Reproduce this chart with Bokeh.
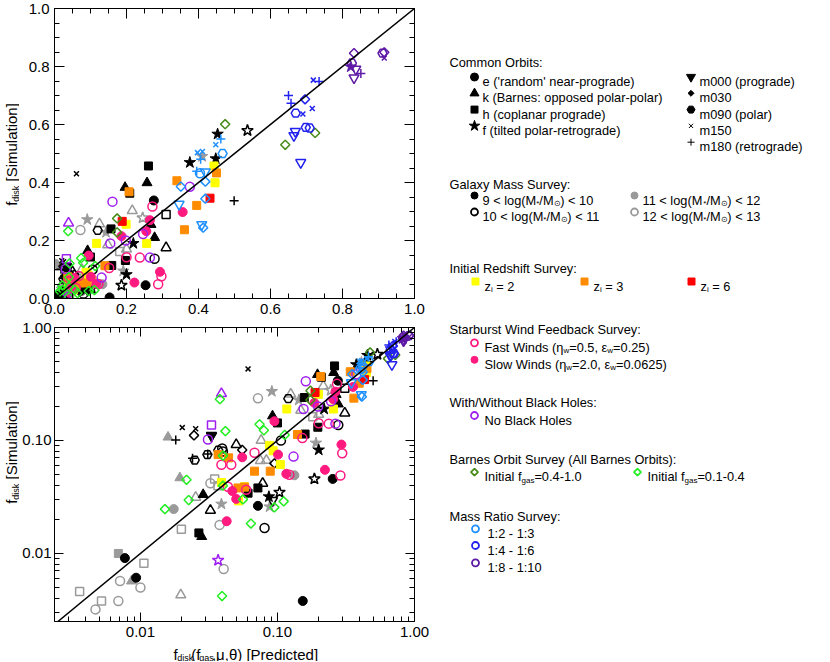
import numpy as np
from bokeh.plotting import figure
from bokeh.models import (ColumnDataSource, FixedTicker, PrintfTickFormatter,
                          CustomJSTickFormatter, LinearAxis, LogAxis, Range1d, Slope)
from bokeh.layouts import row, column
from bokeh.embed import file_html
from bokeh.resources import INLINE
from bokeh.core.properties import value

# ---------------------------------------------------------------- data
# x = f_disk predicted, y = f_disk simulation; m = marker code
# o circle, ^ triangle, s square, * star, v inverted triangle,
# d diamond, h pentagon/hex, x cross-x, + plus
blk_fill_x = [0.0077, 0.0093, 0.153, 0.0267, 0.028, 0.0287, 0.061, 0.072, 0.072, 0.0866,
              0.253, 0.20, 0.092, 0.10, 0.159, 0.197, 0.061, 0.0202, 0.0253, 0.0181,
              0.024, 0.031, 0.033, 0.499, 0.219, 0.278, 0.257, 0.261, 0.196, 0.209,
              0.276, 0.376, 0.448, 0.453, 0.157, 0.268]
blk_fill_y = [0.0091, 0.0061, 0.0038, 0.0152, 0.0141, 0.0332, 0.0342, 0.038, 0.0264, 0.0318,
              0.0457, 0.0825, 0.165, 0.143, 0.114, 0.131, 0.43, 0.130, 0.127, 0.101,
              0.0695, 0.076, 0.109, 0.337, 0.19, 0.21, 0.399, 0.457, 0.383, 0.363,
              0.338, 0.469, 0.482, 0.567, 0.24, 0.255]
blk_fill_m = list("ooos^^sso*o*^sssxxx+++v+*^^s^so***s^")

blk_open_x = [0.0324, 0.078, 0.050, 0.1035, 0.186, 0.092, 0.0805, 0.106, 0.0246, 0.033,
              0.0249, 0.0308, 0.037, 0.0395, 0.0553, 0.095, 0.12, 0.31, 0.31, 0.278,
              0.536, 0.04]
blk_open_y = [0.0241, 0.0418, 0.092, 0.0348, 0.0457, 0.0295, 0.0168, 0.100, 0.111, 0.111,
              0.067, 0.075, 0.082, 0.085, 0.0825, 0.0627, 0.235, 0.29, 0.175, 0.137,
              0.579, 0.080]
blk_open_m = list("^^^**voodvhhhoddhs^o*o")

gry_fill_x = [0.0069, 0.0086, 0.0175, 0.0194, 0.0159, 0.039, 0.0877, 0.133, 0.191, 0.091,
              0.143, 0.41, 0.0015]
gry_fill_y = [0.0100, 0.0057, 0.0247, 0.0467, 0.107, 0.0274, 0.0259, 0.0492, 0.095, 0.272,
              0.228, 0.49, 0.12]
gry_fill_m = list("s^o^^**o****o")

gry_open_x = [0.0106, 0.0036, 0.0052, 0.0199, 0.0348, 0.0368, 0.181, 0.0071, 0.0100, 0.0069,
              0.0047, 0.0405, 0.0378, 0.0324, 0.072, 0.0197, 0.0253, 0.076, 0.075, 0.083,
              0.148, 0.20, 0.216, 0.125, 0.245]
gry_open_y = [0.0082, 0.0046, 0.0038, 0.0164, 0.0457, 0.0398, 0.162, 0.0057, 0.0050, 0.0038,
              0.0032, 0.0073, 0.0179, 0.0418, 0.236, 0.0043, 0.0314, 0.100, 0.0663, 0.0668,
              0.185, 0.170, 0.303, 0.257, 0.278]
gry_open_m = list("sssssssoooooooo^^^^^^^^^*")

yel_x = [0.039, 0.052, 0.0574, 0.0876, 0.093, 0.105, 0.117, 0.256, 0.443, 0.446, 0.199]
yel_y = [0.0425, 0.0292, 0.039, 0.0905, 0.081, 0.0612, 0.19, 0.19, 0.457, 0.399, 0.256]

org_x = [0.0515, 0.0575, 0.068, 0.0886, 0.0369, 0.044, 0.14, 0.207, 0.34, 0.45, 0.395, 0.361]
org_y = [0.038, 0.0387, 0.0535, 0.0535, 0.075, 0.0702, 0.113, 0.368, 0.406, 0.433, 0.321, 0.237]

red_x = [0.188, 0.432]
red_y = [0.266, 0.346]

pnk_fill_x = [0.0426, 0.0468, 0.050, 0.0553, 0.095, 0.101, 0.116, 0.222, 0.293, 0.186,
              0.265, 0.356, 0.255]
pnk_fill_y = [0.0193, 0.0357, 0.0304, 0.071, 0.148, 0.075, 0.0507, 0.055, 0.092, 0.215,
              0.27, 0.298, 0.232]

pnk_open_x = [0.039, 0.046, 0.068, 0.0435, 0.0591, 0.122, 0.288, 0.297, 0.152, 0.20, 0.237, 0.272]
pnk_open_y = [0.061, 0.061, 0.078, 0.039, 0.0366, 0.0497, 0.049, 0.077, 0.105, 0.142, 0.141, 0.317]

pur_x = [0.0311, 0.131, 0.155, 0.198, 0.161, 0.246, 0.265, 0.376, 0.039, 0.033, 0.0369]
pur_y = [0.102, 0.072, 0.19, 0.20, 0.334, 0.222, 0.141, 0.385, 0.26, 0.137, 0.0087]
pur_m = list("oooooooo^s*")

dgr_x = [0.474, 0.724, 0.641, 0.174, 0.174]
dgr_y = [0.601, 0.571, 0.530, 0.276, 0.228]

lgr_x = [0.0394, 0.064, 0.0151, 0.0225, 0.0217, 0.040, 0.056, 0.095, 0.111, 0.113,
         0.0417, 0.074, 0.0796, 0.038, 0.040]
lgr_y = [0.0042, 0.0184, 0.0247, 0.0297, 0.0449, 0.0398, 0.0301, 0.0256, 0.0289, 0.112,
         0.121, 0.139, 0.123, 0.232, 0.0735]

dod_x = [0.397, 0.411, 0.406, 0.448, 0.462, 0.467, 0.395, 0.404, 0.419, 0.419, 0.351, 0.346,
         0.419, 0.409, 0.413]
dod_y = [0.503, 0.507, 0.480, 0.530, 0.550, 0.500, 0.439, 0.432, 0.437, 0.403, 0.386, 0.325,
         0.344, 0.255, 0.244]
dod_m = list("xx+x+h+ovddvdvd")

blu_x = [0.650, 0.657, 0.719, 0.735, 0.696, 0.670, 0.690, 0.716, 0.698, 0.709, 0.669, 0.665, 0.684]
blu_y = [0.700, 0.673, 0.753, 0.748, 0.687, 0.639, 0.636, 0.655, 0.590, 0.588, 0.576, 0.562, 0.469]
blu_m = list("++x+dhxxhhvvv")

dpu_x = [0.832, 0.826, 0.837, 0.832, 0.851, 0.916, 0.911, 0.916]
dpu_y = [0.846, 0.812, 0.791, 0.761, 0.776, 0.849, 0.846, 0.829]
dpu_m = list("dhvv+dhx")
dpu_fill_x = [0.823]
dpu_fill_y = [0.799]

# ---------------------------------------------------------------- texts
LIN_TICKS = [0.0, 0.2, 0.4, 0.6, 0.8, 1.0]
LOG_TICKS = [0.01, 0.1, 1.0]
ORBIT_LEFT = ["e ('random' near-prograde)", "k (Barnes: opposed polar-polar)",
              "h (coplanar prograde)", "f (tilted polar-retrograde)"]
ORBIT_LEFT_MK = ["o", "^", "s", "*"]
ORBIT_RIGHT = ["m000 (prograde)", "m030", "m090 (polar)", "m150", "m180 (retrograde)"]
ORBIT_RIGHT_MK = ["v", "d", "h", "x", "+"]
MASS_BINS = [("9", "10"), ("10", "11"), ("11", "12"), ("12", "13")]
REDSHIFTS = ["2", "3", "6"]
RATIOS = ["1:2 - 1:3", "1:4 - 1:6", "1:8 - 1:10"]
TITLE_Y = [("f", "n"), ("disk", "s"), (" [Simulation]", "n")]
TITLE_X = [("f", "n"), ("disk", "s"), ("(f", "n"), ("gas", "s"), (",μ,θ) [Predicted]", "n")]

# ---------------------------------------------------------------- style
FONT = "Liberation Sans"
BLACK = "#000000"
GRAY = "#9a9a9a"
YELLOW = "#ffff00"
ORANGE = "#ff8c00"
RED = "#ff0000"
PINK = "#ff1a80"
PURPLE = "#a020f0"
DKGREEN = "#468a18"
LTGREEN = "#22ee22"
DODGER = "#1e90ff"
BLUE = "#2222ee"
DKPURPLE = "#5e1aa6"

MK = {"o": ("circle", 9, 0.0), "^": ("triangle", 10, 0.0), "s": ("square", 8, 0.0),
      "*": ("star", 12, 0.0), "v": ("inverted_triangle", 10, 0.0),
      "d": ("square", 6.5, np.pi / 4), "h": ("hex", 9, 0.0), "x": ("x", 7, 0.0),
      "+": ("cross", 9, 0.0)}

GROUPS = [
    (gry_open_x, gry_open_y, gry_open_m, GRAY, False),
    (gry_fill_x, gry_fill_y, gry_fill_m, GRAY, True),
    (blk_open_x, blk_open_y, blk_open_m, BLACK, False),
    (blk_fill_x, blk_fill_y, blk_fill_m, BLACK, True),
    (yel_x, yel_y, ["s"] * len(yel_x), YELLOW, True),
    (org_x, org_y, ["s"] * len(org_x), ORANGE, True),
    (red_x, red_y, ["s"] * len(red_x), RED, True),
    (pnk_open_x, pnk_open_y, ["o"] * len(pnk_open_x), PINK, False),
    (pnk_fill_x, pnk_fill_y, ["o"] * len(pnk_fill_x), PINK, True),
    (pur_x, pur_y, pur_m, PURPLE, False),
    (lgr_x, lgr_y, ["d"] * len(lgr_x), LTGREEN, False),
    (dgr_x, dgr_y, ["d"] * len(dgr_x), DKGREEN, False),
    (dod_x, dod_y, dod_m, DODGER, False),
    (blu_x, blu_y, blu_m, BLUE, False),
    (dpu_x, dpu_y, dpu_m, DKPURPLE, False),
    (dpu_fill_x, dpu_fill_y, ["*"], DKPURPLE, True),
]


def build_source():
    d = dict(x=[], y=[], marker=[], size=[], angle=[], color=[], fa=[], lw=[])
    for gx, gy, gm, c, filled in GROUPS:
        for xv, yv, m in zip(gx, gy, gm):
            name, s, a = MK[m]
            d["x"].append(xv); d["y"].append(yv)
            d["marker"].append(name); d["size"].append(s); d["angle"].append(a)
            d["color"].append(c)
            d["fa"].append(1.0 if filled else 0.0)
            d["lw"].append(1.0 if (filled and m not in "x+") else 1.5)
    return ColumnDataSource(d)


# Arial / Liberation Sans advance widths (per 1000 em)
AW = {' ': 278, "'": 191, '(': 333, ')': 333, '*': 389, '+': 584, ',': 278, '-': 333,
      '.': 278, '/': 278, ':': 278, '<': 584, '=': 584, '[': 278, ']': 278,
      'A': 667, 'B': 667, 'C': 722, 'D': 722, 'E': 667, 'F': 611, 'G': 778, 'H': 722,
      'I': 278, 'K': 667, 'L': 556, 'M': 833, 'N': 722, 'O': 778, 'P': 667, 'R': 722,
      'S': 667, 'T': 611, 'W': 944,
      'a': 556, 'b': 556, 'c': 500, 'd': 556, 'e': 556, 'f': 278, 'g': 556, 'h': 556,
      'i': 222, 'j': 222, 'k': 500, 'l': 222, 'm': 833, 'n': 556, 'o': 556, 'p': 556,
      'q': 556, 'r': 333, 's': 500, 't': 278, 'u': 556, 'v': 500, 'w': 722, 'x': 500,
      'y': 500, 'z': 500, 'η': 556, 'ε': 446, 'μ': 577, 'θ': 556, '⊙': 838}


def tw(s, size):
    return sum(AW.get(ch, 556) for ch in s) / 1000.0 * size


def style_axis(ax, show, fmt, ticker, maj, mnr, standoff=6):
    ax.ticker = ticker
    ax.axis_line_color = "black"
    ax.axis_line_width = 1
    ax.major_tick_line_color = "black"
    ax.minor_tick_line_color = "black"
    ax.major_tick_in = maj
    ax.major_tick_out = 0
    ax.minor_tick_in = mnr
    ax.minor_tick_out = 0
    ax.major_label_text_font = FONT
    ax.major_label_text_color = "black"
    ax.axis_label = None
    if show:
        ax.formatter = PrintfTickFormatter(format=fmt)
        ax.major_label_text_font_size = "15px"
        ax.major_label_standoff = standoff
    else:
        ax.formatter = CustomJSTickFormatter(code="return ''")
        ax.major_label_text_font_size = "0px"
        ax.major_label_standoff = 0


def lin_ticker():
    minor = [round(v, 2) for v in np.arange(0.0, 1.0001, 0.05)]
    return FixedTicker(ticks=LIN_TICKS, minor_ticks=minor)


def log_ticker():
    minor = [k * 10.0 ** e for e in (-3, -2, -1) for k in range(2, 10)]
    return FixedTicker(ticks=LOG_TICKS, minor_ticks=minor)


H = 661
SW = 19                    # left strip with the rotated titles
FW, LB, RB = 360, 52 - SW, 16
TOP1, FH1, BOT1 = 8, 290, 22
TOP2, FH2, BOT2 = 7, 294, 34
P2_BOTTOM = TOP1 + FH1 + BOT1 + TOP2 + FH2 + BOT2
BS_H = 20
BS_TOP = H - BS_H
src = build_source()

# ---------------------------------------------------------------- top (linear)
p1 = figure(frame_width=FW, frame_height=FH1, x_range=Range1d(0, 1), y_range=Range1d(0, 1),
            output_backend="svg", toolbar_location=None, tools="", title=None,
            min_border_left=LB, min_border_right=RB, min_border_top=TOP1, min_border_bottom=BOT1,
            align="start")
p1.add_layout(LinearAxis(), "above")
p1.add_layout(LinearAxis(), "right")
for ax in p1.xaxis:
    style_axis(ax, ax in p1.below, "%.1f", lin_ticker(), 10, 5, 5)
for ax in p1.yaxis:
    style_axis(ax, ax in p1.left, "%.1f", lin_ticker(), 10, 5, 5)

# ---------------------------------------------------------------- bottom (log)
p2 = figure(frame_width=FW, frame_height=FH2, x_axis_type="log", y_axis_type="log",
            x_range=Range1d(0.00236, 1.0), y_range=Range1d(0.0025, 1.0),
            output_backend="svg", toolbar_location=None, tools="", title=None,
            min_border_left=LB, min_border_right=RB, min_border_top=TOP2, min_border_bottom=BOT2,
            align="start")
p2.add_layout(LogAxis(), "above")
p2.add_layout(LogAxis(), "right")
for ax in p2.xaxis:
    style_axis(ax, ax in p2.below, "%.2f", log_ticker(), 9, 5, 5)
for ax in p2.yaxis:
    style_axis(ax, ax in p2.left, "%.2f", log_ticker(), 9, 5, 3)

for p in (p1, p2):
    p.xgrid.visible = False
    p.ygrid.visible = False
    p.outline_line_color = "black"
    p.outline_line_width = 1
    p.add_layout(Slope(gradient=1, y_intercept=0, line_color="black", line_width=1.5))
    p.scatter(x="x", y="y", marker="marker", size="size", angle="angle",
              line_color="color", fill_color="color", fill_alpha="fa", line_width="lw",
              source=src)


def blank(w, h, xr, yr, **kw):
    f = figure(width=w, height=h, x_range=xr, y_range=yr, x_axis_location=None,
               y_axis_location=None, toolbar_location=None, tools="", title=None,
               output_backend="svg", min_border=0, outline_line_color=None,
               align="start", **kw)
    f.grid.visible = False
    return f


def total(parts, size, sub):
    return sum(tw(t, size if k == "n" else sub) for t, k in parts)


def draw_parts(x, y, parts, size, sub, sub_dy, vertical=False):
    """text pieces with subscripts; page-pixel coordinates (y downwards)"""
    buckets = {}
    pos = y if vertical else x
    for txt, kind in parts:
        fs = size if kind == "n" else sub
        off = 0.0 if kind == "n" else sub_dy
        stripped = txt.lstrip(" ")
        adv = tw(txt[:len(txt) - len(stripped)], fs)
        pos = pos - adv if vertical else pos + adv
        b = buckets.setdefault(fs, dict(x=[], y=[], t=[]))
        if vertical:
            b["x"].append(x + off); b["y"].append(pos)
        else:
            b["x"].append(pos); b["y"].append(y + off)
        b["t"].append(stripped)
        w = tw(stripped, fs)
        pos = pos - w if vertical else pos + w
    return buckets


def render(fig, buckets, angle=0.0, flip_y=None):
    for fs, d in buckets.items():
        ys = d["y"] if flip_y is None else [flip_y - v for v in d["y"]]
        fig.text(x=d["x"], y=ys, text=d["t"], text_font=value(FONT),
                 text_font_size=f"{fs}px", text_baseline="alphabetic", text_align="left",
                 text_color="black", angle=angle)


# left strip: rotated y titles (data coords: x = page x, y = H - page y)
lstrip = blank(SW, H, Range1d(0, SW), Range1d(0, H))
ty = total(TITLE_Y, 15, 9)
for yc in (154, 452):
    render(lstrip, draw_parts(11, yc + ty / 2, TITLE_Y, 15, 9, 4, vertical=True),
           angle=np.pi / 2, flip_y=H)

# bottom strip: x title (data coords = page coords), overlaps p2's lower border
bstrip = blank(LB + FW + RB, BS_H, Range1d(SW, SW + LB + FW + RB), Range1d(H, BS_TOP),
               background_fill_color=None, border_fill_color=None,
               margin=(BS_TOP - P2_BOTTOM, 0, 0, 0))
tx = total(TITLE_X, 15, 9)
render(bstrip, draw_parts(230 - tx / 2, 653.5, TITLE_X, 15, 9, 3.5))

# ---------------------------------------------------------------- legend panel
X0 = SW + LB + FW + RB
LW = 390
LEG_DY = 5                 # compensates the observed vertical offset of this panel
leg = blank(LW, H, Range1d(X0, X0 + LW), Range1d(H + LEG_DY, LEG_DY))

TS, SS = 12.8, 8.0
texts = {}


def put(x, yc, parts):
    b = draw_parts(x, yc + 4.6, parts, TS, SS, 3.2)
    for fs, d in b.items():
        t = texts.setdefault(fs, dict(x=[], y=[], t=[]))
        for k in ("x", "y", "t"):
            t[k].extend(d[k])


LMK = {"o": ("circle", 8, 0.0), "^": ("triangle", 9, 0.0), "s": ("square", 7, 0.0),
       "*": ("star", 11, 0.0), "v": ("inverted_triangle", 9, 0.0),
       "d": ("square", 5.0, np.pi / 4), "h": ("hex", 8, 0.0), "x": ("x", 6, 0.0),
       "+": ("cross", 7, 0.0)}
lm = dict(x=[], y=[], marker=[], size=[], angle=[], color=[], fa=[], lw=[])


def key(x, yc, code, color, filled, size=None):
    name, s, a = LMK[code]
    lm["x"].append(x); lm["y"].append(yc); lm["marker"].append(name)
    lm["size"].append(size or s); lm["angle"].append(a); lm["color"].append(color)
    lm["fa"].append(1.0 if filled else 0.0)
    lm["lw"].append(1.0 if code in "x+" else (1.0 if filled else 1.8))


HX = 447
put(HX, 62.5, [("Common Orbits:", "n")])
rows = [81.5, 97.8, 114.1, 130.4, 146.7]
for i, (t, m) in enumerate(zip(ORBIT_LEFT, ORBIT_LEFT_MK)):
    key(472, rows[i], m, BLACK, True)
    put(480, rows[i], [(t, "n")])
for i, (t, m) in enumerate(zip(ORBIT_RIGHT, ORBIT_RIGHT_MK)):
    key(688.5, rows[i], m, BLACK, True, size=(4.2 if m == "d" else None))
    put(697, rows[i], [(t, "n")])

put(HX, 184.5, [("Galaxy Mass Survey:", "n")])
mass_pos = [(472, 200.0), (472, 216.5), (632, 200.0), (632, 216.5)]
mass_style = [(BLACK, True), (BLACK, False), (GRAY, True), (GRAY, False)]
for (lo, hi), (mx, yc), (c, f) in zip(MASS_BINS, mass_pos, mass_style):
    key(mx, yc, "o", c, f, size=7)
    put(mx + 8, yc, [(lo + " < log(M", "n"), ("*", "s"), ("/M", "n"), ("⊙", "s"),
                     (") < " + hi, "n")])

put(HX, 268.3, [("Initial Redshift Survey:", "n")])
for z, mx, c in zip(REDSHIFTS, [473, 582, 689], [YELLOW, ORANGE, RED]):
    key(mx, 286, "s", c, True)
    put(mx + 9, 286, [("z", "n"), ("i", "s"), (" = " + z, "n")])

put(HX, 329.3, [("Starburst Wind Feedback Survey:", "n")])
key(472, 347.3, "o", PINK, False, size=7)
put(482, 347.3, [("Fast Winds (η", "n"), ("w", "s"), ("=0.5, ε", "n"), ("w", "s"),
                 ("=0.25)", "n")])
key(472, 364.3, "o", PINK, True, size=7)
put(482, 364.3, [("Slow Winds (η", "n"), ("w", "s"), ("=2.0, ε", "n"), ("w", "s"),
                 ("=0.0625)", "n")])

put(HX, 402.7, [("With/Without Black Holes:", "n")])
key(472, 420, "o", PURPLE, False, size=7)
put(482, 420, [("No Black Holes", "n")])

put(HX, 459, [("Barnes Orbit Survey (All Barnes Orbits):", "n")])
key(472, 476.7, "d", DKGREEN, False)
put(482, 476.7, [("Initial f", "n"), ("gas", "s"), ("=0.4-1.0", "n")])
key(635, 476.7, "d", LTGREEN, False)
put(645, 476.7, [("Initial f", "n"), ("gas", "s"), ("=0.1-0.4", "n")])

put(HX, 516, [("Mass Ratio Survey:", "n")])
for t, yc, c in zip(RATIOS, [533.3, 550.0, 567.3], [DODGER, BLUE, DKPURPLE]):
    key(473, yc, "o", c, False, size=7)
    put(485, yc, [(t, "n")])

leg.scatter(x="x", y="y", marker="marker", size="size", angle="angle", line_color="color",
            fill_color="color", fill_alpha="fa", line_width="lw", source=ColumnDataSource(lm))
render(leg, texts)

layout = row(lstrip, column(p1, p2, bstrip, align="start"), leg, align="start")
open("out.html", "w").write(file_html(layout, INLINE))
